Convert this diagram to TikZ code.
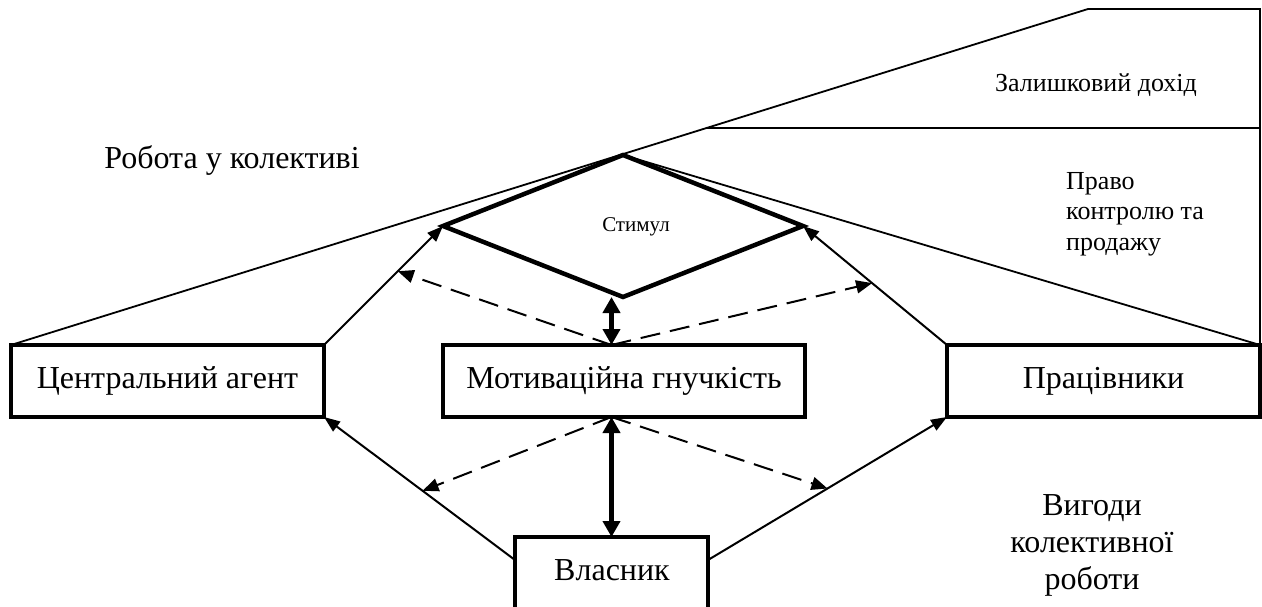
\documentclass[tikz,border=0pt]{standalone}
\usepackage{fontspec}
\setmainfont{Liberation Serif}
\usetikzlibrary{arrows.meta,shapes.geometric,calc}

\begin{document}
\begin{tikzpicture}[x=1pt,y=-1pt,
  box/.style={draw,line width=3.5pt,inner sep=0pt,outer sep=0pt,minimum height=72pt,
    font=\fontsize{32}{37}\selectfont},
  thinline/.style={line width=1.8pt},
  link/.style={line width=2pt,-{Triangle[length=16pt,width=12pt]}},
  dashlink/.style={line width=2pt,dash pattern=on 20pt off 10pt,
    -{Triangle[length=16pt,width=13pt]}},
  boldlink/.style={line width=5pt,
    {Triangle[length=16pt,width=17pt]}-{Triangle[length=16pt,width=17pt]}},
  lbl/.style={font=\fontsize{32}{37}\selectfont,align=center,inner sep=0pt},
  smalllbl/.style={font=\fontsize{26}{30.5}\selectfont,inner sep=0pt}
]
\useasboundingbox (0,0) rectangle (1262,607);
\clip (0,0) rectangle (1262,607);

% boxes
\node[box,minimum width=313pt] (agent) at (167.5,381) {Центральний агент};
\node[box,minimum width=362pt] (motiv) at (624,381) {Мотиваційна гнучкість};
\node[box,minimum width=313pt] (staff) at (1103.5,381) {Працівники};
\node[box,minimum width=193pt,minimum height=90pt,anchor=north] (owner) at (611.5,537) {};
\node[lbl] (ownertxt) at (612,570) {Власник};

% incentive diamond
\node[draw,diamond,line width=4.5pt,minimum width=360pt,minimum height=142pt,
  inner sep=0pt,outer sep=0pt] (stim) at (623,226) {};
\node[font=\fontsize{21}{24}\selectfont,inner sep=0pt] (stimtxt) at (636,227) {Стимул};

% outer frame
\coordinate (apex) at (1088,9);
\draw[thinline] (agent.north west) -- coordinate[pos=0.646] (split) (apex)
  -- (staff.north east |- apex) -- (staff.north east);
\draw[thinline] (split) -- (split -| staff.north east);
\draw[thinline] (stim.north) -- (staff.north east);

% solid connectors
\draw[link] (agent.north east) -- coordinate[pos=0.62] (pA) (stim.west);
\draw[link] (staff.north west) -- coordinate[pos=0.52] (pB) (stim.east);
\draw[link] ([yshift=-23pt]owner.north west) -- coordinate[pos=0.484] (pC) (agent.south east);
\draw[link] ([yshift=-23pt]owner.north east) -- coordinate[pos=0.5] (pD) (staff.south west);

% dashed connectors
\draw[dashlink] (motiv.north -| owner.north) -- (pA);
\draw[dashlink] (motiv.north -| owner.north) -- (pB);
\draw[dashlink] (motiv.south -| owner.north) -- (pC);
\draw[dashlink] (motiv.south -| owner.north) -- (pD);

% bold two-way arrows
\draw[boldlink] (stim.south -| owner.north) -- (motiv.north -| owner.north);
\draw[boldlink] (motiv.south -| owner.north) -- (owner.north);

% labels
\node[lbl] (team) at (232,160) {Робота у колективі};
\node[smalllbl] (resid) at (1096,85) {Залишковий дохід};
\node[smalllbl,align=left,anchor=north west] (rights) at (1066,172) {Право\\контролю та\\продажу};
\node[lbl] (benefit) at (1092,545) {Вигоди\\колективної\\роботи};
\end{tikzpicture}
\end{document}
